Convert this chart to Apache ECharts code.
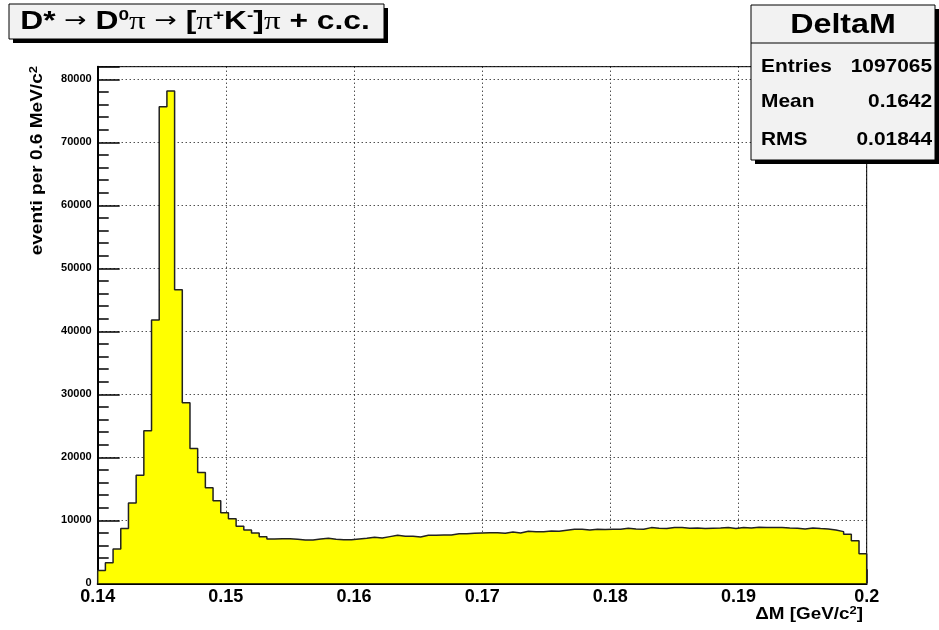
<!DOCTYPE html>
<html>
<head>
    <meta charset="utf-8">
    <title>DeltaM</title>
    <script src="https://cdn.jsdelivr.net/npm/echarts@6/dist/echarts.min.js"></script>
    <style>
        html, body { margin: 0; padding: 0; background: #fff; }
        #main { width: 939px; height: 630px; }
    </style>
</head>
<body>
<div id="main"></div>
<script>
    // istogramma DeltaM: 100 bin da 0.6 MeV tra 0.14 e 0.2 GeV
    var xMin = 0.14;
    var xMax = 0.2;
    var binWidth = 0.0006;
    var binValues = [
        2050, 3280, 5450, 8700, 12750, 17150, 24200, 41800, 75650, 78150,
        46600, 28650, 21400, 17600, 15150, 13100, 11200, 10260, 9050, 8450,
        7980, 7400, 7050, 7090, 7090, 6990, 6880, 6880, 7040, 7140,
        6990, 6930, 6930, 7040, 7140, 7300, 7200, 7410, 7620, 7460,
        7460, 7350, 7620, 7620, 7670, 7670, 7880, 7880, 7940, 7990,
        8040, 8040, 7940, 8150, 7990, 8250, 8200, 8200, 8310, 8250,
        8410, 8570, 8570, 8470, 8570, 8520, 8570, 8570, 8730, 8620,
        8570, 8840, 8730, 8680, 8840, 8840, 8730, 8780, 8680, 8730,
        8780, 8840, 8680, 8840, 8780, 8890, 8840, 8840, 8840, 8780,
        8730, 8620, 8780, 8680, 8620, 8470, 8200, 7780, 6770, 4710
    ];
    var yMax = 82000;
    var yTickStep = 10000;
    var xTickStep = 0.01;
    var statsLabels = ['Entries', 'Mean', 'RMS'];
    var statsValues = ['1097065', '0.1642', '0.01844'];

    var font = 'Liberation Sans, Arial, Helvetica, sans-serif';

    // punti del contorno a gradini
    var steps = [[xMin, 0]];
    binValues.forEach(function (v, i) {
        steps.push([xMin + i * binWidth, v]);
    });
    steps.push([xMax, binValues[binValues.length - 1]]);
    steps.push([xMax, 0]);

    function rs(size, family, weight, extra) {
        var o = { fontSize: size, fontFamily: family, fontWeight: weight || 'bold', fill: '#000', color: '#000' };
        for (var k in extra) o[k] = extra[k];
        return o;
    }

    var chart = echarts.init(document.getElementById('main'));

    // ROOT usa un Helvetica un po' piu' largo: scaleX sui testi
    var statsY = [67, 102, 140];
    var statsText = [];
    statsLabels.forEach(function (lab, i) {
        statsText.push({
            type: 'text', x: 761, y: statsY[i], z: 20, scaleX: 1.1,
            style: { text: lab, fontSize: 19, fontWeight: 'bold', fontFamily: font, fill: '#000', align: 'left', verticalAlign: 'middle' }
        });
        statsText.push({
            type: 'text', x: 932, y: statsY[i], z: 20, scaleX: 1.1,
            style: { text: statsValues[i], fontSize: 19, fontWeight: 'bold', fontFamily: font, fill: '#000', align: 'right', verticalAlign: 'middle' }
        });
    });

    chart.setOption({
        animation: false,
        backgroundColor: '#fff',
        grid: {
            left: 97.7, right: 72.3, top: 66.7, bottom: 46.7,
            show: true, borderColor: '#000', borderWidth: 1
        },
        xAxis: {
            type: 'value',
            min: xMin, max: xMax, interval: xTickStep,
            axisLine: { show: true, onZero: false, lineStyle: { color: '#000', width: 2 } },
            axisTick: { show: true, inside: true, length: 14, lineStyle: { color: '#000', width: 1.5 } },
            minorTick: { show: true, splitNumber: 5, length: 7, lineStyle: { color: '#000', width: 1.5 } },
            splitLine: { show: true, lineStyle: { color: '#000', type: [1, 3], width: 1 } },
            axisLabel: {
                margin: 5, color: '#000', fontFamily: font, fontWeight: 'bold', fontSize: 18,
                formatter: function (v) { return String(+v.toFixed(2)); }
            }
        },
        yAxis: {
            type: 'value',
            min: 0, max: yMax, interval: yTickStep,
            axisLine: { show: true, lineStyle: { color: '#000', width: 2 } },
            axisTick: { show: true, inside: true, length: 22, lineStyle: { color: '#000', width: 1.5 } },
            minorTick: { show: true, splitNumber: 5, length: 11, lineStyle: { color: '#000', width: 1.5 } },
            splitLine: { show: true, lineStyle: { color: '#000', type: [1, 3], width: 1 } },
            axisLabel: {
                margin: 6, color: '#000', fontFamily: font, fontWeight: 'bold', fontSize: 11,
                formatter: function (v) { return v % yTickStep === 0 ? String(v) : ''; }
            }
        },
        series: [{
            type: 'line',
            data: steps,
            step: 'end',
            symbol: 'none',
            z: 3,
            lineStyle: { color: '#222', width: 1.5 },
            areaStyle: { color: '#ffff00', opacity: 1, origin: 'start' }
        }],
        graphic: [
            // titolo
            { type: 'rect', shape: { x: 13, y: 8, width: 375, height: 35 }, style: { fill: '#000' }, z: 10 },
            { type: 'rect', shape: { x: 9, y: 4, width: 375, height: 35 }, style: { fill: '#f2f2f2', stroke: '#000', lineWidth: 1 }, z: 11 },
            {
                type: 'text', x: 195, y: 22, z: 12, scaleX: 1.27,
                style: {
                    text: '{b|D*} {a|→} {b|D}{sup|0}{p|π} {a|→} {b|[}{p|π}{sup|+}{b|K}{sup|-}{b|]}{p|π}{b| + c.c.}',
                    align: 'center', verticalAlign: 'middle',
                    fontSize: 25, fontFamily: font, fontWeight: 'bold',
                    rich: {
                        b: rs(25, font, 'bold', { lineHeight: 28 }),
                        a: rs(21, 'DejaVu Sans', 'normal', { lineHeight: 28 }),
                        p: rs(26, 'Liberation Serif', 'normal', { lineHeight: 28 }),
                        sup: rs(15, font, 'bold', { lineHeight: 15, verticalAlign: 'top' })
                    }
                }
            },
            // box statistiche
            { type: 'rect', shape: { x: 755, y: 9, width: 184, height: 155 }, style: { fill: '#000' }, z: 18 },
            { type: 'rect', shape: { x: 751, y: 5, width: 184, height: 155 }, style: { fill: '#f2f2f2', stroke: '#000', lineWidth: 1 }, z: 19 },
            { type: 'line', shape: { x1: 751, y1: 43, x2: 935, y2: 43 }, style: { stroke: '#000', lineWidth: 1 }, z: 20 },
            {
                type: 'text', x: 843, y: 25, z: 20, scaleX: 1.15,
                style: { text: 'DeltaM', fontSize: 28, fontWeight: 'bold', fontFamily: font, fill: '#000', align: 'center', verticalAlign: 'middle' }
            }
        ].concat(statsText).concat([
            // titoli assi
            {
                type: 'text', x: 863, y: 615, z: 20, scaleX: 1.18,
                style: {
                    text: '{n|ΔM [GeV/c}{s|2}{n|]}',
                    align: 'right', verticalAlign: 'middle',
                    fontSize: 16, fontFamily: font, fontWeight: 'bold',
                    rich: {
                        n: rs(16, font, 'bold', { lineHeight: 20 }),
                        s: rs(11, font, 'bold', { lineHeight: 11, verticalAlign: 'top' })
                    }
                }
            },
            {
                type: 'text', x: 38, y: 66, rotation: Math.PI / 2, z: 20, scaleX: 1.19,
                style: {
                    text: '{n|eventi per 0.6 MeV/c}{s|2}',
                    align: 'right', verticalAlign: 'middle',
                    fontSize: 16, fontFamily: font, fontWeight: 'bold',
                    rich: {
                        n: rs(16, font, 'bold', { lineHeight: 20 }),
                        s: rs(11, font, 'bold', { lineHeight: 11, verticalAlign: 'top' })
                    }
                }
            }
        ])
    });
</script>
</body>
</html>
